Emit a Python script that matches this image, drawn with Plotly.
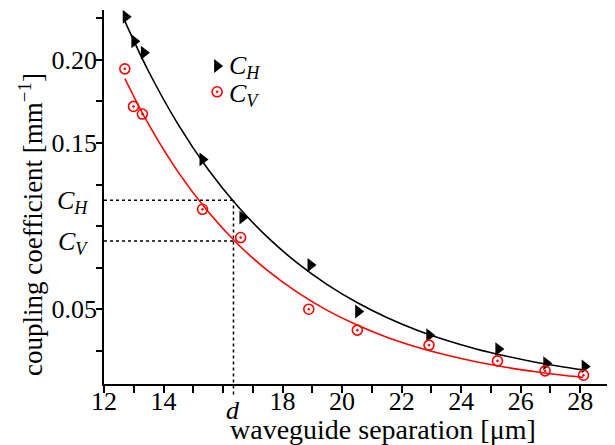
import plotly.graph_objects as go

# ---- data ----
ch_x = [12.73, 13.02, 13.34, 15.31, 16.65, 18.94, 20.54, 22.93, 25.25, 26.86, 28.15]
ch_y = [0.2259, 0.2112, 0.2043, 0.1401, 0.1051, 0.0766, 0.0486, 0.0344, 0.0260, 0.0175, 0.0156]

cv_x = [12.70, 12.99, 13.29, 15.31, 16.59, 18.88, 20.51, 22.92, 25.22, 26.82, 28.11]
cv_y = [0.1946, 0.1720, 0.1674, 0.1101, 0.0931, 0.0500, 0.0374, 0.0284, 0.0189, 0.0129, 0.0103]

fit_x = [12.7, 13.5, 14.5, 15.5, 16.5, 17.5, 18.5, 19.5, 20.5, 21.5, 22.5, 23.5, 24.5, 25.5, 26.5, 27.5, 28.1]
fit_h = [0.2233, 0.1930, 0.1609, 0.1341, 0.1118, 0.0932, 0.0777, 0.0648, 0.0540, 0.0450, 0.0375,
         0.0313, 0.0261, 0.0218, 0.0181, 0.0151, 0.0135]
fit_v = [0.1888, 0.1612, 0.1323, 0.1086, 0.0891, 0.0732, 0.0601, 0.0493, 0.0405, 0.0332, 0.0273,
         0.0224, 0.0184, 0.0151, 0.0124, 0.0101, 0.0090]

d_sep = 16.35
c_h_level = 0.1155
c_v_level = 0.0911

x_ticks = list(range(12, 30))
x_labels = ["12", "", "14", "", "", "", "18", "", "20", "", "22", "", "24", "", "26", "", "28", ""]
y_ticks = [0.025, 0.05, 0.075, 0.10, 0.125, 0.15, 0.175, 0.20, 0.225]
y_labels = ["", "0.05", "", "", "", "0.15", "", "0.20", ""]

label_h = "<i>C</i><sub><i>H</i></sub>"
label_v = "<i>C</i><sub><i>V</i></sub>"

x_range = [12, 29]
y_range = [0.005, 0.23]

FONT = "Liberation Serif"

fig = go.Figure()

fig.add_trace(go.Scatter(x=fit_x, y=fit_h, mode="lines", line=dict(color="black", width=1.6, shape="spline"),
                         showlegend=False, hoverinfo="skip"))
fig.add_trace(go.Scatter(x=fit_x, y=fit_v, mode="lines", line=dict(color="red", width=1.6, shape="spline"),
                         showlegend=False, hoverinfo="skip"))

# legend shows the marker symbols; the labels sit next to them as annotations
fig.add_trace(go.Scatter(x=ch_x, y=ch_y, mode="markers", name=" ",
                         marker=dict(symbol="triangle-right", size=12, color="black"),
                         legend="legend"))
fig.add_trace(go.Scatter(x=cv_x, y=cv_y, mode="markers", name=" ",
                         marker=dict(symbol="circle-open-dot", size=10, color="red", line=dict(width=1.6, color="red")),
                         legend="legend2"))

dot = dict(color="black", width=1.5, dash="dot")
fig.add_shape(type="line", xref="x", yref="y", x0=x_range[0], x1=d_sep, y0=c_h_level, y1=c_h_level, line=dot)
fig.add_shape(type="line", xref="x", yref="y", x0=x_range[0], x1=d_sep, y0=c_v_level, y1=c_v_level, line=dot)
y1_paper = (c_h_level - y_range[0]) / (y_range[1] - y_range[0])
fig.add_shape(type="line", xref="x", yref="paper", x0=d_sep, x1=d_sep, y0=-0.028, y1=y1_paper, line=dot)

ann_font = dict(family=FONT, size=26, color="black")
# legend labels
fig.add_annotation(text=label_h, xref="paper", yref="paper", x=0.244, y=0.852,
                   xanchor="left", yanchor="middle", yshift=-2, showarrow=False, font=ann_font)
fig.add_annotation(text=label_v, xref="paper", yref="paper", x=0.244, y=0.779,
                   xanchor="left", yanchor="middle", yshift=-2, showarrow=False, font=ann_font)
# reference-level labels
fig.add_annotation(text=label_h, xref="paper", yref="y", x=0, y=c_h_level,
                   xanchor="right", yanchor="middle", xshift=-14, yshift=-2, showarrow=False, font=ann_font)
fig.add_annotation(text=label_v, xref="paper", yref="y", x=0, y=c_v_level,
                   xanchor="right", yanchor="middle", xshift=-14, yshift=-2, showarrow=False, font=ann_font)
fig.add_annotation(text="<i>d</i>", xref="x", yref="paper", x=d_sep, y=0,
                   xanchor="center", yanchor="top", yshift=-10, showarrow=False, font=ann_font)
fig.add_annotation(text="waveguide separation [μm]", xref="paper", yref="paper", x=0.552, y=0,
                   xanchor="center", yanchor="top", yshift=-28, showarrow=False,
                   font=dict(family=FONT, size=28, color="black"))
fig.add_annotation(text="coupling coefficient [mm<sup>−1</sup>]", xref="paper", yref="paper", x=0, y=0.425,
                   xanchor="center", yanchor="middle", xshift=-73, textangle=-90, showarrow=False,
                   font=dict(family=FONT, size=27, color="black"))

axis_common = dict(showline=True, linecolor="black", linewidth=1.8, ticks="outside", tickcolor="black",
                   tickwidth=1.5, showgrid=False, zeroline=False,
                   tickfont=dict(family=FONT, size=26, color="black"))

# the page body adds an 8px margin, so the figure is sized to the visible window area
fig.update_layout(
    width=607, height=437,
    margin=dict(l=96, r=5, t=2, b=61),
    paper_bgcolor="white", plot_bgcolor="white",
    font=dict(family=FONT, color="black"),
    xaxis=dict(range=x_range, tickmode="array", tickvals=x_ticks, ticktext=x_labels, ticklen=7,
               ticklabelstandoff=-14, **axis_common),
    yaxis=dict(range=y_range, tickmode="array", tickvals=y_ticks, ticktext=y_labels, ticklen=6,
               ticklabelstandoff=-6, **axis_common),
    legend=dict(x=0.184, y=0.85, xanchor="left", yanchor="middle", bgcolor="rgba(0,0,0,0)",
                font=dict(family=FONT, size=26, color="black"), itemwidth=30),
    legend2=dict(x=0.184, y=0.781, xanchor="left", yanchor="middle", bgcolor="rgba(0,0,0,0)",
                 font=dict(family=FONT, size=26, color="black"), itemwidth=30),
)

fig.write_html("out.html")
